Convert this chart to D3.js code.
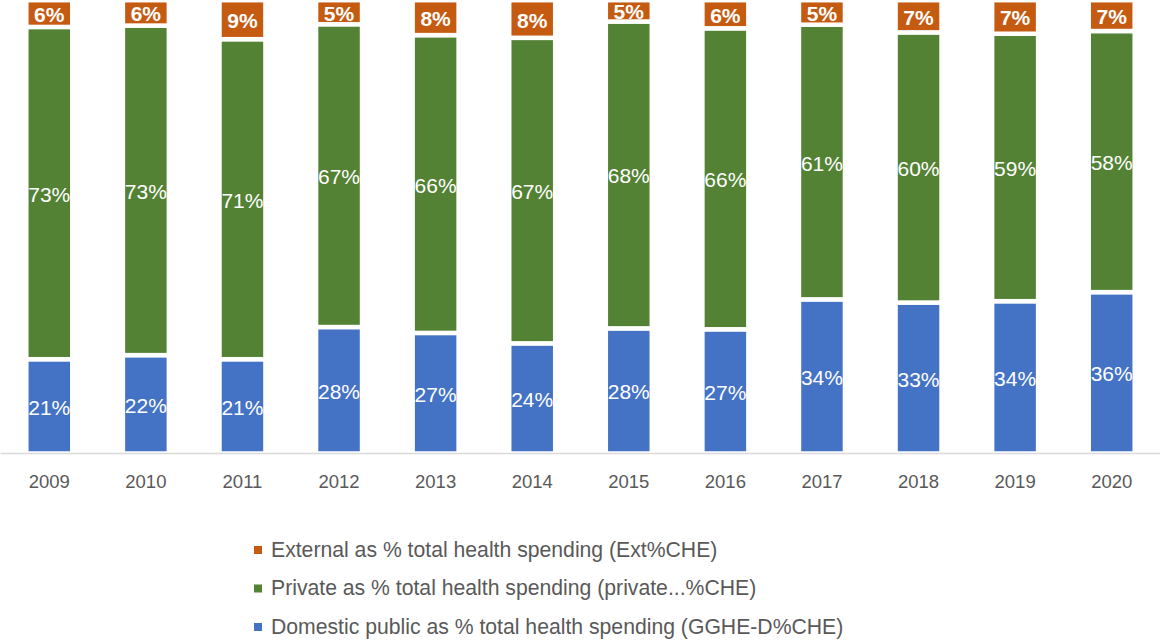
<!DOCTYPE html>
<html>
<head>
<meta charset="utf-8">
<script src="https://cdn.jsdelivr.net/npm/d3@7"></script>
<style>
  body { margin: 0; background: #fff; }
  svg { display: block; font-family: "Liberation Sans", Arial, sans-serif; }
</style>
</head>
<body>
<div id="chart"></div>
<script>
// years and the three shares (% of total health spending)
const years = ["2009", "2010", "2011", "2012", "2013", "2014", "2015", "2016", "2017", "2018", "2019", "2020"];
const domesticPublic = [20.8, 21.7, 20.8, 27.9, 26.6, 24.3, 27.6, 27.4, 34.0, 33.3, 33.6, 35.6];
const privateShare   = [73.3, 72.7, 70.6, 66.8, 65.7, 67.4, 67.7, 66.4, 60.6, 59.6, 59.0, 57.6];
const externalShare  = [5.9, 5.6, 8.6, 5.3, 7.7, 8.3, 4.7, 6.2, 5.4, 7.1, 7.4, 6.8];

const seriesNames = [
  "Domestic public as % total health spending (GGHE-D%CHE)",
  "Private as % total health spending (private...%CHE)",
  "External as % total health spending (Ext%CHE)"
];
const colors = ["#4472C4", "#548235", "#C55A11"];

const width = 1161, height = 640;

const svg = d3.select("#chart").append("svg")
  .attr("width", width)
  .attr("height", height);

const rows = years.map((y, i) => ({
  year: y,
  s0: domesticPublic[i],
  s1: privateShare[i],
  s2: externalShare[i]
}));

const stack = d3.stack().keys(["s0", "s1", "s2"]);
const layers = stack(rows);

const x = d3.scaleBand()
  .domain(years)
  .range([1, 1160])
  .paddingInner(0.524)
  .paddingOuter(0.262);

const y = d3.scaleLinear()
  .domain([0, 100])
  .range([453.5, 0.2]);

// bars
const groups = svg.append("g")
  .selectAll("g")
  .data(layers)
  .join("g")
  .attr("fill", (d, i) => colors[i]);

groups.selectAll("rect")
  .data(d => d)
  .join("rect")
  .attr("x", d => x(d.data.year))
  .attr("width", x.bandwidth())
  .attr("y", d => y(d[1]))
  .attr("height", d => y(d[0]) - y(d[1]))
  .attr("stroke", "#fff")
  .attr("stroke-width", 4.5);

// axis
const xAxis = svg.append("g")
  .attr("transform", `translate(0,${y(0)})`)
  .call(d3.axisBottom(x).tickSize(0).tickPadding(21));
xAxis.select(".domain").attr("stroke", "#d9d9d9").attr("stroke-width", 1.3)
  .attr("d", `M0.5,0H1160`);
xAxis.selectAll("text")
  .attr("fill", "#595959")
  .attr("font-size", 18.5)
  .attr("font-family", "Liberation Sans, Arial, sans-serif");

// data labels
layers.forEach((layer, li) => {
  svg.append("g")
    .selectAll("text")
    .data(layer)
    .join("text")
    .attr("x", d => x(d.data.year) + x.bandwidth() / 2)
    .attr("y", d => (y(d[0]) + y(d[1])) / 2 + 1)
    .attr("text-anchor", "middle")
    .attr("dominant-baseline", "central")
    .attr("fill", "#fff")
    .attr("font-size", 21)
    .attr("font-weight", li === 2 ? "bold" : "normal")
    .text(d => Math.round(d[1] - d[0]) + "%");
});

// legend (external on top)
const legendOrder = [2, 1, 0];
const legendY = d3.scalePoint().domain(legendOrder).range([549, 626]);

const legend = svg.append("g");
const item = legend.selectAll("g")
  .data(legendOrder)
  .join("g")
  .attr("transform", k => `translate(254,${legendY(k)})`);

item.append("rect")
  .attr("x", 0)
  .attr("y", -3)
  .attr("width", 8)
  .attr("height", 8)
  .attr("fill", k => colors[k]);

item.append("text")
  .attr("x", 17)
  .attr("y", 0)
  .attr("dominant-baseline", "central")
  .attr("fill", "#595959")
  .attr("font-size", 21.2)
  .text(k => seriesNames[k]);
</script>
</body>
</html>
